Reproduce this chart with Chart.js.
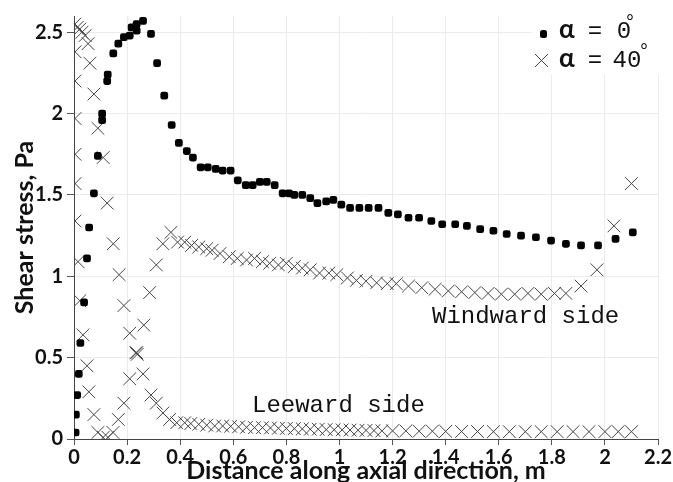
<!DOCTYPE html>
<html>
<head>
<meta charset="utf-8">
<script src="https://cdn.jsdelivr.net/npm/chart.js@4"></script>
<style>
  body { margin: 0; background: #fff; }
  #wrap { width: 673px; height: 482px; position: relative; }
</style>
</head>
<body>
<div id="wrap"><canvas id="chart"></canvas></div>
<script>
// alpha = 0 deg (filled dots)
const dotX = [0.006, 0.007, 0.012, 0.018, 0.024, 0.038, 0.049, 0.057, 0.075, 0.09,
  0.106, 0.106, 0.125, 0.127, 0.148, 0.167, 0.188, 0.21, 0.217, 0.236, 0.236, 0.26,
  0.29, 0.313, 0.34, 0.368, 0.395, 0.425, 0.448, 0.477, 0.504, 0.534, 0.56, 0.59,
  0.617, 0.647, 0.673, 0.70, 0.726, 0.756, 0.786, 0.81, 0.83, 0.86, 0.89, 0.917,
  0.95, 0.977, 1.007, 1.04, 1.075, 1.11, 1.147, 1.184, 1.22, 1.26, 1.30, 1.346,
  1.387, 1.436, 1.48, 1.53, 1.58, 1.63, 1.684, 1.74, 1.797, 1.853, 1.91, 1.974,
  2.04, 2.105];
const dotY = [0.04, 0.15, 0.27, 0.40, 0.59, 0.84, 1.11, 1.30, 1.51, 1.74,
  1.96, 2.0, 2.20, 2.24, 2.37, 2.43, 2.47, 2.48, 2.53, 2.51, 2.55, 2.57,
  2.49, 2.31, 2.11, 1.93, 1.82, 1.77, 1.73, 1.67, 1.67, 1.66, 1.65, 1.65,
  1.59, 1.56, 1.56, 1.58, 1.58, 1.56, 1.51, 1.51, 1.50, 1.50, 1.48, 1.45,
  1.46, 1.47, 1.44, 1.42, 1.42, 1.42, 1.42, 1.39, 1.38, 1.36, 1.36, 1.34,
  1.32, 1.32, 1.31, 1.29, 1.28, 1.26, 1.25, 1.24, 1.22, 1.20, 1.19, 1.19,
  1.23, 1.27];

// alpha = 40 deg (crosses): windward branch then leeward branch
const crossX = [0.003, 0.004, 0.004, 0.004, 0.004, 0.004, 0.004, 0.015, 0.022, 0.034,
  0.049, 0.056, 0.075, 0.09, 0.11, 0.128, 0.147, 0.167, 0.188, 0.21, 0.233, 0.263,
  0.285, 0.31, 0.335, 0.365, 0.39, 0.417, 0.443, 0.47, 0.50, 0.52, 0.55, 0.585,
  0.615, 0.65, 0.68, 0.71, 0.737, 0.77, 0.80, 0.83, 0.86, 0.89, 0.925, 0.96, 0.99,
  1.03, 1.064, 1.10, 1.14, 1.18, 1.214, 1.26, 1.31, 1.36, 1.41, 1.46, 1.51, 1.56,
  1.61, 1.66, 1.71, 1.76, 1.81, 1.853, 1.91, 1.97, 2.034, 2.10,
  0.012, 0.022, 0.03, 0.042, 0.053, 0.06, 0.075, 0.09, 0.11, 0.125, 0.148, 0.17,
  0.188, 0.21, 0.236, 0.238, 0.26, 0.29, 0.31, 0.335, 0.36, 0.387, 0.417, 0.44,
  0.47, 0.50, 0.53, 0.56, 0.59, 0.62, 0.65, 0.68, 0.71, 0.74, 0.77, 0.80, 0.83,
  0.86, 0.89, 0.92, 0.95, 0.98, 1.01, 1.04, 1.07, 1.10, 1.13, 1.16, 1.20, 1.25,
  1.30, 1.35, 1.40, 1.46, 1.52, 1.58, 1.64, 1.70, 1.76, 1.82, 1.88, 1.94, 2.00,
  2.05, 2.10];
const crossY = [2.55, 2.38, 2.20, 1.97, 1.75, 1.57, 1.34, 1.09, 0.85, 0.64,
  0.45, 0.29, 0.15, 0.04, 0.01, 0.01, 0.04, 0.12, 0.22, 0.37, 0.53, 0.70,
  0.90, 1.07, 1.20, 1.27, 1.21, 1.21, 1.19, 1.18, 1.17, 1.16, 1.14, 1.12,
  1.11, 1.10, 1.11, 1.09, 1.08, 1.07, 1.08, 1.06, 1.05, 1.04, 1.02, 1.02, 1.01,
  0.99, 0.975, 0.97, 0.96, 0.955, 0.955, 0.94, 0.93, 0.92, 0.91, 0.905, 0.90, 0.895,
  0.89, 0.89, 0.895, 0.89, 0.895, 0.895, 0.94, 1.04, 1.31, 1.57,
  2.53, 2.52, 2.50, 2.48, 2.43, 2.31, 2.12, 1.91, 1.73, 1.45, 1.20, 1.01,
  0.82, 0.65, 0.53, 0.52, 0.40, 0.27, 0.22, 0.16, 0.12, 0.10, 0.10, 0.095,
  0.09, 0.085, 0.08, 0.08, 0.078, 0.075, 0.072, 0.07, 0.07, 0.068, 0.066, 0.065, 0.064,
  0.062, 0.06, 0.06, 0.058, 0.057, 0.056, 0.055, 0.054, 0.053, 0.052, 0.05, 0.05, 0.05,
  0.048, 0.048, 0.047, 0.046, 0.046, 0.045, 0.045, 0.045, 0.045, 0.045, 0.045, 0.045, 0.045,
  0.045, 0.045];

const xTicks = [0, 0.2, 0.4, 0.6, 0.8, 1, 1.2, 1.4, 1.6, 1.8, 2, 2.2];
const yTicks = [0, 0.5, 1, 1.5, 2, 2.5];

const sansBold = 'Lato, "Open Sans", sans-serif';
const mono = '"Nimbus Mono PS", "Courier New", "Liberation Mono", monospace';

function toPoints(xs, ys) {
  return xs.map((x, i) => ({ x: x, y: ys[i] }));
}

// side labels and the legend box
const overlay = {
  id: 'overlay',
  afterDatasetsDraw(chart) {
    const ctx = chart.ctx;
    ctx.save();
    ctx.fillStyle = '#111';
    ctx.textBaseline = 'alphabetic';
    ctx.font = '24px ' + mono;
    ctx.fillText('Windward side', 432, 323);
    ctx.fillText('Leeward side', 252, 412);

    // legend
    ctx.fillStyle = '#fff';
    ctx.fillRect(532, 13, 127, 62);

    ctx.fillStyle = '#000';
    ctx.beginPath();
    ctx.roundRect(540, 30, 7, 8, 2.5);
    ctx.fill();

    ctx.strokeStyle = '#444';
    ctx.lineWidth = 1;
    ctx.beginPath();
    ctx.moveTo(535, 54); ctx.lineTo(548, 67);
    ctx.moveTo(548, 54); ctx.lineTo(535, 67);
    ctx.stroke();

    ctx.fillStyle = '#111';
    ctx.font = 'bold 26px ' + sansBold;
    ctx.fillText('α', 559, 38);
    ctx.fillText('α', 559, 67);
    ctx.font = '24px ' + mono;
    ctx.textAlign = 'center';
    ctx.fillText('=', 595, 38);
    ctx.fillText('=', 595, 67);
    ctx.fillText('0', 624, 38);
    ctx.fillText('40', 627, 67);
    ctx.font = '20px ' + mono;
    ctx.fillText('°', 630, 28);
    ctx.fillText('°', 644, 57);
    ctx.restore();
  }
};

const ctx = document.getElementById('chart').getContext('2d');

const chart = new Chart(ctx, {
  type: 'scatter',
  data: {
    datasets: [{
      label: 'α = 0°',
      data: toPoints(dotX, dotY),
      pointStyle: 'rectRounded',
      pointRadius: 4.5,
      backgroundColor: '#000',
      borderColor: '#000',
      borderWidth: 0,
    }, {
      label: 'α = 40°',
      data: toPoints(crossX, crossY),
      pointStyle: 'crossRot',
      pointRadius: 9,
      backgroundColor: '#444',
      borderColor: '#444',
      borderWidth: 1,
    }],
  },
  options: {
    responsive: true,
    maintainAspectRatio: false,
    animation: false,
    events: [],
    layout: { padding: { top: 15, right: 14, left: 0, bottom: 0 } },
    scales: {
      x: {
        type: 'linear',
        min: 0,
        max: 2.2,
        afterBuildTicks: (s) => { s.ticks = xTicks.map(v => ({ value: v })); },
        afterFit: (s) => { s.height = 43; },
        ticks: {
          color: '#111',
          font: { family: sansBold, size: 20, weight: 'bold' },
          padding: 1,
          maxRotation: 0,
          callback: (v) => String(v),
        },
        grid: { color: '#ebebeb', tickColor: '#555', tickLength: 6 },
        border: { color: '#444' },
        title: {
          display: true,
          text: 'Distance along axial direction, m',
          color: '#111',
          font: { family: sansBold, size: 25, weight: 'bold' },
          padding: { top: 0, bottom: -4 },
        },
      },
      y: {
        type: 'linear',
        min: 0,
        max: 2.6,
        afterBuildTicks: (s) => { s.ticks = yTicks.map(v => ({ value: v })); },
        afterFit: (s) => { s.width = 74; },
        ticks: {
          color: '#111',
          font: { family: sansBold, size: 20, weight: 'bold' },
          padding: 4,
          callback: (v) => String(v),
        },
        grid: { color: '#ebebeb', tickColor: '#555', tickLength: 7 },
        border: { color: '#444' },
        title: {
          display: true,
          text: 'Shear stress, Pa',
          color: '#111',
          font: { family: sansBold, size: 25, weight: 'bold' },
          padding: { top: 10, bottom: 0 },
        },
      },
    },
    plugins: {
      legend: { display: false },
      tooltip: { enabled: false },
    },
  },
  plugins: [overlay],
});
</script>
</body>
</html>
